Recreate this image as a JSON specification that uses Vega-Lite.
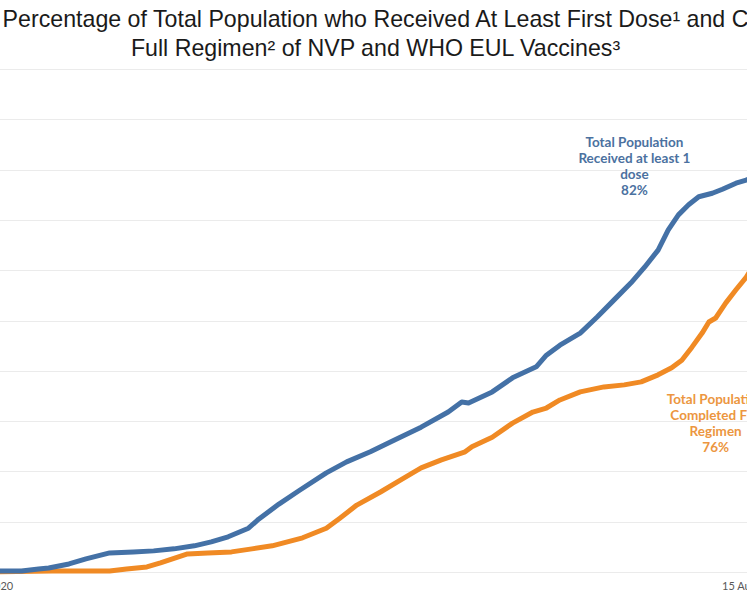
{
  "$schema": "https://vega.github.io/schema/vega-lite/v6.json",
  "autosize": {"type": "none"},
  "padding": {"left": -19, "top": 69, "right": -77, "bottom": 26},
  "width": 843,
  "height": 503,
  "title": {
    "text": ["Percentage of Total Population who Received At Least First Dose¹ and C", "Full Regimen²  of NVP and WHO EUL Vaccines³"],
    "font": "Liberation Sans",
    "fontSize": 23.2,
    "fontWeight": "normal",
    "color": "#1a1a1a",
    "lineHeight": 29,
    "anchor": "middle",
    "frame": "group",
    "dx": -27,
    "offset": 8
  },
  "config": {"view": {"stroke": null}},
  "datasets": {
    "first": [
      {"date": "2020-12-30", "pct": 0},
      {"date": "2021-01-05", "pct": 0.2},
      {"date": "2021-01-11", "pct": 0.2},
      {"date": "2021-01-16", "pct": 0.6},
      {"date": "2021-01-19", "pct": 0.8},
      {"date": "2021-01-25", "pct": 1.6},
      {"date": "2021-01-30", "pct": 2.6},
      {"date": "2021-02-06", "pct": 3.8},
      {"date": "2021-02-13", "pct": 4.0},
      {"date": "2021-02-19", "pct": 4.2},
      {"date": "2021-02-25", "pct": 4.6},
      {"date": "2021-03-03", "pct": 5.2},
      {"date": "2021-03-08", "pct": 6.0},
      {"date": "2021-03-13", "pct": 7.0},
      {"date": "2021-03-19", "pct": 8.7},
      {"date": "2021-03-22", "pct": 10.5},
      {"date": "2021-03-28", "pct": 13.5},
      {"date": "2021-04-03", "pct": 16.2},
      {"date": "2021-04-11", "pct": 19.7},
      {"date": "2021-04-17", "pct": 21.9},
      {"date": "2021-04-24", "pct": 23.9},
      {"date": "2021-05-01", "pct": 26.2},
      {"date": "2021-05-09", "pct": 28.8},
      {"date": "2021-05-17", "pct": 31.8},
      {"date": "2021-05-21", "pct": 33.8},
      {"date": "2021-05-23", "pct": 33.6},
      {"date": "2021-05-30", "pct": 35.8},
      {"date": "2021-06-05", "pct": 38.6},
      {"date": "2021-06-12", "pct": 40.8},
      {"date": "2021-06-15", "pct": 43.1},
      {"date": "2021-06-19", "pct": 45.1},
      {"date": "2021-06-25", "pct": 47.5},
      {"date": "2021-06-30", "pct": 50.7},
      {"date": "2021-07-05", "pct": 54.1},
      {"date": "2021-07-10", "pct": 57.5},
      {"date": "2021-07-14", "pct": 60.6},
      {"date": "2021-07-18", "pct": 64.0},
      {"date": "2021-07-21", "pct": 68.0},
      {"date": "2021-07-24", "pct": 71.0},
      {"date": "2021-07-27", "pct": 73.0},
      {"date": "2021-07-30", "pct": 74.6},
      {"date": "2021-08-03", "pct": 75.3},
      {"date": "2021-08-06", "pct": 76.1},
      {"date": "2021-08-10", "pct": 77.3},
      {"date": "2021-08-13", "pct": 77.9},
      {"date": "2021-08-19", "pct": 80.0},
      {"date": "2021-08-27", "pct": 82.0}
    ],
    "full": [
      {"date": "2020-12-30", "pct": 0},
      {"date": "2021-01-20", "pct": 0.2},
      {"date": "2021-02-06", "pct": 0.2},
      {"date": "2021-02-11", "pct": 0.6},
      {"date": "2021-02-17", "pct": 1.0},
      {"date": "2021-02-21", "pct": 1.8},
      {"date": "2021-03-01", "pct": 3.6},
      {"date": "2021-03-07", "pct": 3.8},
      {"date": "2021-03-14", "pct": 4.0},
      {"date": "2021-03-20", "pct": 4.6},
      {"date": "2021-03-26", "pct": 5.2},
      {"date": "2021-04-04", "pct": 6.8},
      {"date": "2021-04-11", "pct": 8.7},
      {"date": "2021-04-15", "pct": 10.7},
      {"date": "2021-04-20", "pct": 13.3},
      {"date": "2021-04-27", "pct": 15.9},
      {"date": "2021-05-03", "pct": 18.3},
      {"date": "2021-05-09", "pct": 20.7},
      {"date": "2021-05-15", "pct": 22.3},
      {"date": "2021-05-22", "pct": 23.9},
      {"date": "2021-05-24", "pct": 24.9},
      {"date": "2021-05-30", "pct": 26.8},
      {"date": "2021-06-05", "pct": 29.6},
      {"date": "2021-06-11", "pct": 31.8},
      {"date": "2021-06-15", "pct": 32.6},
      {"date": "2021-06-19", "pct": 34.2},
      {"date": "2021-06-25", "pct": 35.8},
      {"date": "2021-07-02", "pct": 36.8},
      {"date": "2021-07-08", "pct": 37.2},
      {"date": "2021-07-13", "pct": 37.8},
      {"date": "2021-07-18", "pct": 39.2},
      {"date": "2021-07-22", "pct": 40.6},
      {"date": "2021-07-25", "pct": 42.1},
      {"date": "2021-07-28", "pct": 44.7},
      {"date": "2021-07-31", "pct": 47.5},
      {"date": "2021-08-02", "pct": 49.7},
      {"date": "2021-08-04", "pct": 50.5},
      {"date": "2021-08-07", "pct": 53.5},
      {"date": "2021-08-10", "pct": 56.1},
      {"date": "2021-08-13", "pct": 58.6},
      {"date": "2021-08-19", "pct": 65.0},
      {"date": "2021-08-27", "pct": 73.0},
      {"date": "2021-09-01", "pct": 76.0}
    ],
    "notes": [
      {"date": "2021-07-11", "pct": 85.3, "label": "Total Population\nReceived at least 1\ndose\n82%", "series": "first"},
      {"date": "2021-08-04", "pct": 34.2, "label": "Total Population\nCompleted Full\nRegimen\n76%", "series": "full"}
    ]
  },
  "encoding": {
    "x": {
      "field": "date",
      "type": "temporal",
      "scale": {
        "type": "utc",
        "domain": [
          {"year": 2020, "month": 12, "date": 30, "utc": true},
          {"year": 2021, "month": 9, "date": 5, "utc": true}
        ]
      },
      "axis": {
        "values": [
          {"year": 2020, "month": 12, "date": 30, "utc": true},
          {"year": 2021, "month": 8, "date": 15, "utc": true}
        ],
        "format": "%-d %b %Y",
        "title": null,
        "grid": false,
        "domain": false,
        "ticks": false,
        "labelFont": "Lato",
        "labelFontSize": 11,
        "labelColor": "#595959",
        "labelPadding": 8,
        "labelOverlap": false,
        "labelFlush": false
      }
    },
    "y": {
      "field": "pct",
      "type": "quantitative",
      "scale": {"domain": [0, 100], "nice": false},
      "axis": {
        "values": [0, 10, 20, 30, 40, 50, 60, 70, 80, 90, 100],
        "title": null,
        "labels": false,
        "ticks": false,
        "domain": false,
        "grid": true,
        "gridColor": "#ebebeb",
        "gridWidth": 1
      }
    }
  },
  "layer": [
    {
      "data": {"name": "full"},
      "mark": {"type": "line", "color": "#f08a24", "strokeWidth": 5, "strokeCap": "round", "strokeJoin": "round"}
    },
    {
      "data": {"name": "first"},
      "mark": {"type": "line", "color": "#4471a6", "strokeWidth": 5, "strokeCap": "round", "strokeJoin": "round"}
    },
    {
      "data": {"name": "notes"},
      "mark": {"type": "text", "font": "Lato", "fontSize": 13.5, "fontWeight": "bold", "lineHeight": 16, "align": "center", "baseline": "middle", "lineBreak": "\n"},
      "encoding": {
        "text": {"field": "label"},
        "color": {
          "field": "series",
          "type": "nominal",
          "scale": {"domain": ["first", "full"], "range": ["#4b71a0", "#ec9640"]},
          "legend": null
        }
      }
    }
  ]
}
